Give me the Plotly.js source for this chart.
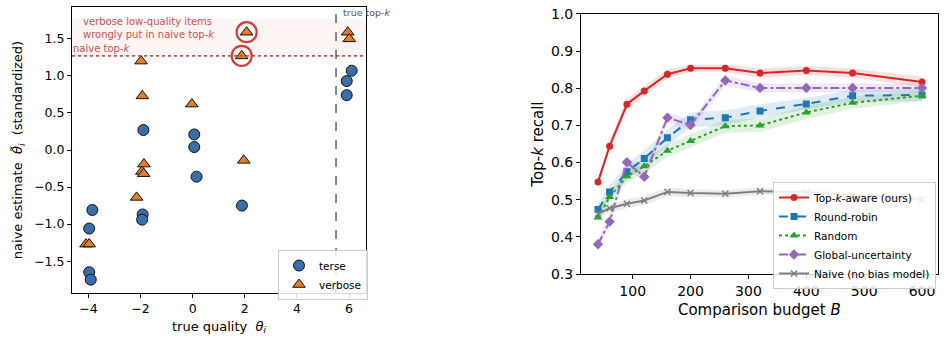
<!DOCTYPE html>
<html>
<head>
<meta charset="utf-8">
<script src="https://cdn.plot.ly/plotly-3.0.1.min.js"></script>
<style>html,body{margin:0;padding:0;background:#fff;}#chart{width:946px;height:342px;}</style>
</head>
<body>
<div id="chart"></div>
<script>
// ---- Left panel data ----
const terseX = [-1.89, 0.06, 0.06, 5.91, 6.10, 5.91, 0.15, 1.89, -3.85, -1.92, -1.94, -3.97, -3.97, -3.91];
const terseY = [0.27, 0.21, 0.04, 0.93, 1.07, 0.74, -0.36, -0.75, -0.81, -0.87, -0.94, -1.06, -1.65, -1.75];
const verboseX = [2.07, 1.88, -1.98, -1.93, -0.03, 5.95, 6.01, 1.96, -1.87, -1.95, -1.88, -2.15, -4.09, -3.97];
const verboseY = [1.59, 1.27, 1.20, 0.73, 0.62, 1.59, 1.50, -0.14, -0.19, -0.29, -0.32, -0.64, -1.27, -1.27];
const flaggedX = [2.07, 1.88];
const flaggedY = [1.59, 1.27];
const naiveTopK = 1.27;
const bandTop = 1.77;
const trueTopK = 5.5;

// ---- Right panel data ----
const budget = [40, 60, 90, 120, 160, 200, 260, 320, 400, 480, 600];
const topkAware = [0.548, 0.644, 0.757, 0.793, 0.838, 0.854, 0.854, 0.841, 0.848, 0.841, 0.817];
const topkAwareErr = [0.012, 0.014, 0.014, 0.014, 0.012, 0.010, 0.010, 0.012, 0.012, 0.012, 0.014];
const roundRobin = [0.474, 0.521, 0.575, 0.611, 0.667, 0.715, 0.721, 0.739, 0.758, 0.780, 0.782];
const roundRobinErr = [0.014, 0.018, 0.022, 0.022, 0.022, 0.020, 0.020, 0.018, 0.016, 0.016, 0.016];
const randomSel = [0.452, 0.507, 0.563, 0.590, 0.632, 0.658, 0.698, 0.700, 0.735, 0.761, 0.780];
const randomErr = [0.014, 0.016, 0.018, 0.018, 0.018, 0.018, 0.018, 0.018, 0.018, 0.016, 0.014];
const globalUnc = [0.380, 0.441, 0.601, 0.562, 0.721, 0.701, 0.821, 0.801, 0.801, 0.801, 0.801];
const globalUncErr = [0.012, 0.014, 0.014, 0.014, 0.014, 0.012, 0.014, 0.012, 0.012, 0.012, 0.012];
const naive = [0.462, 0.477, 0.489, 0.498, 0.521, 0.518, 0.516, 0.523, 0.520, 0.512, 0.501];
const naiveErr = [0.010, 0.012, 0.012, 0.012, 0.012, 0.010, 0.010, 0.010, 0.010, 0.010, 0.010];

const FONT = 'DejaVu Sans, sans-serif';
const annRed = '#c9534f';

function band(x, y, e, color) {
  const up = y.map((v, i) => v + e[i]);
  const lo = y.map((v, i) => v - e[i]);
  return {
    x: x.concat(x.slice().reverse()),
    y: up.concat(lo.slice().reverse()),
    xaxis: 'x2', yaxis: 'y2', type: 'scatter', mode: 'lines',
    fill: 'toself', fillcolor: color, line: {width: 0}, showlegend: false, hoverinfo: 'skip'
  };
}
function series(name, y, color, dash, symbol, msize) {
  return {
    x: budget, y: y, name: name, xaxis: 'x2', yaxis: 'y2', legend: 'legend2',
    type: 'scatter', mode: 'lines+markers',
    line: {color: color, width: 2, dash: dash},
    marker: {color: color, symbol: symbol, size: msize, line: {color: color, width: symbol === 'x-thin' ? 1.5 : 0}}
  };
}

const data = [
  {x: terseX, y: terseY, name: 'terse', type: 'scatter', mode: 'markers', legend: 'legend',
   marker: {symbol: 'circle', size: 11, color: '#3b6ea8', line: {color: '#111', width: 1}}},
  {x: verboseX, y: verboseY, name: 'verbose', type: 'scatter', mode: 'markers', legend: 'legend',
   marker: {symbol: 'triangle-up', size: 11, color: '#e07f24', line: {color: '#111', width: 1}}},
  {x: flaggedX, y: flaggedY, type: 'scatter', mode: 'markers', showlegend: false,
   marker: {symbol: 'circle-open', size: 20, color: '#c9413f', line: {color: '#c9413f', width: 2.2}}},
  band(budget, topkAware, topkAwareErr, 'rgba(214,39,40,0.15)'),
  band(budget, roundRobin, roundRobinErr, 'rgba(31,119,180,0.15)'),
  band(budget, randomSel, randomErr, 'rgba(44,160,44,0.15)'),
  band(budget, globalUnc, globalUncErr, 'rgba(148,103,189,0.15)'),
  band(budget, naive, naiveErr, 'rgba(127,127,127,0.15)'),
  series('Top-<i>k</i>-aware (ours)', topkAware, '#d62728', 'solid', 'circle', 7),
  series('Round-robin', roundRobin, '#1f77b4', 'dash', 'square', 7),
  series('Random', randomSel, '#2ca02c', 'dot', 'triangle-up', 8),
  series('Global-uncertainty', globalUnc, '#9467bd', 'dashdot', 'diamond', 8),
  series('Naive (no bias model)', naive, '#7f7f7f', 'solid', 'x-thin', 6)
];

const axisCommon = {
  showline: true, mirror: true, linecolor: '#000', linewidth: 1,
  ticks: 'outside', ticklen: 4, tickcolor: '#000', showgrid: false, zeroline: false,
  tickfont: {family: FONT, color: '#000'}
};

const layout = {
  width: 946, height: 342,
  margin: {l: 0, r: 0, t: 0, b: 0},
  paper_bgcolor: '#fff', plot_bgcolor: '#fff',
  font: {family: FONT, color: '#000'},
  xaxis: Object.assign({}, axisCommon, {
    domain: [0.0761, 0.3869], range: [-4.63, 6.65], tickvals: [-4, -2, 0, 2, 4, 6],
    tickfont: {family: FONT, size: 12.5, color: '#000'},
    title: {text: 'true quality  <i>θ</i><sub><i>i</i></sub>', font: {family: FONT, size: 13}, standoff: 6}
  }),
  yaxis: Object.assign({}, axisCommon, {
    domain: [0.1433, 0.9795], range: [-1.93, 1.93], tickvals: [-1.5, -1, -0.5, 0, 0.5, 1, 1.5], tickformat: '.1f',
    tickfont: {family: FONT, size: 12.5, color: '#000'},
    title: {text: 'naive estimate  <i>θ̃</i><sub><i>i</i></sub>  (standardized)', font: {family: FONT, size: 13}, standoff: 8}
  }),
  xaxis2: Object.assign({}, axisCommon, {
    anchor: 'y2', domain: [0.6142, 0.9912], range: [10.7, 627], tickvals: [100, 200, 300, 400, 500, 600],
    tickfont: {family: FONT, size: 14, color: '#000'},
    title: {text: 'Comparison budget <i>B</i>', font: {family: FONT, size: 15}, standoff: 6}
  }),
  yaxis2: Object.assign({}, axisCommon, {
    anchor: 'x2', domain: [0.1988, 0.9591], range: [0.3, 1.0], dtick: 0.1, tick0: 0.3, tickformat: '.1f',
    tickfont: {family: FONT, size: 14, color: '#000'},
    title: {text: 'Top-<i>k</i> recall', font: {family: FONT, size: 15}, standoff: 3}
  }),
  shapes: [
    {type: 'rect', xref: 'x domain', yref: 'y', x0: 0, x1: 1, y0: naiveTopK, y1: bandTop,
     fillcolor: 'rgba(214,39,40,0.05)', line: {width: 0}, layer: 'below'},
    {type: 'line', xref: 'x domain', yref: 'y', x0: 0, x1: 1, y0: naiveTopK, y1: naiveTopK,
     line: {color: annRed, width: 1.8, dash: 'dot'}},
    {type: 'line', xref: 'x', yref: 'y domain', x0: trueTopK, x1: trueTopK, y0: 0, y1: 1,
     line: {color: '#555', width: 1.4, dash: 'dash'}}
  ],
  annotations: [
    {xref: 'paper', yref: 'paper', x: 81 / 946, y: 1 - 14 / 342, xanchor: 'left', yanchor: 'top', align: 'left',
     text: 'verbose low-quality items<br>wrongly put in naive top-<i>k</i>', showarrow: false,
     font: {family: FONT, size: 10, color: annRed}},
    {xref: 'paper', yref: 'paper', x: 71 / 946, y: 1 - 49 / 342, xanchor: 'left', yanchor: 'middle',
     text: 'naive top-<i>k</i>', showarrow: false, font: {family: FONT, size: 10, color: annRed}},
    {xref: 'paper', yref: 'paper', x: 341 / 946, y: 1 - 12 / 342, xanchor: 'left', yanchor: 'middle',
     text: 'true top-<i>k</i>', showarrow: false, font: {family: FONT, size: 9.5, color: '#555'}}
  ],
  legend: {
    x: 278 / 946, y: 1 - 250 / 342, xanchor: 'left', yanchor: 'top',
    bgcolor: 'rgba(255,255,255,0.85)', bordercolor: '#cccccc', borderwidth: 1,
    font: {family: FONT, size: 10.5}, itemwidth: 30, tracegroupgap: 0
  },
  legend2: {
    x: 773 / 946, y: 1 - 182 / 342, xanchor: 'left', yanchor: 'top',
    bgcolor: 'rgba(255,255,255,0.85)', bordercolor: '#cccccc', borderwidth: 1,
    font: {family: FONT, size: 10.5}, itemwidth: 30, tracegroupgap: 0
  },
  showlegend: true
};

Plotly.newPlot('chart', data, layout, {displayModeBar: false, staticPlot: true});
</script>
</body>
</html>
